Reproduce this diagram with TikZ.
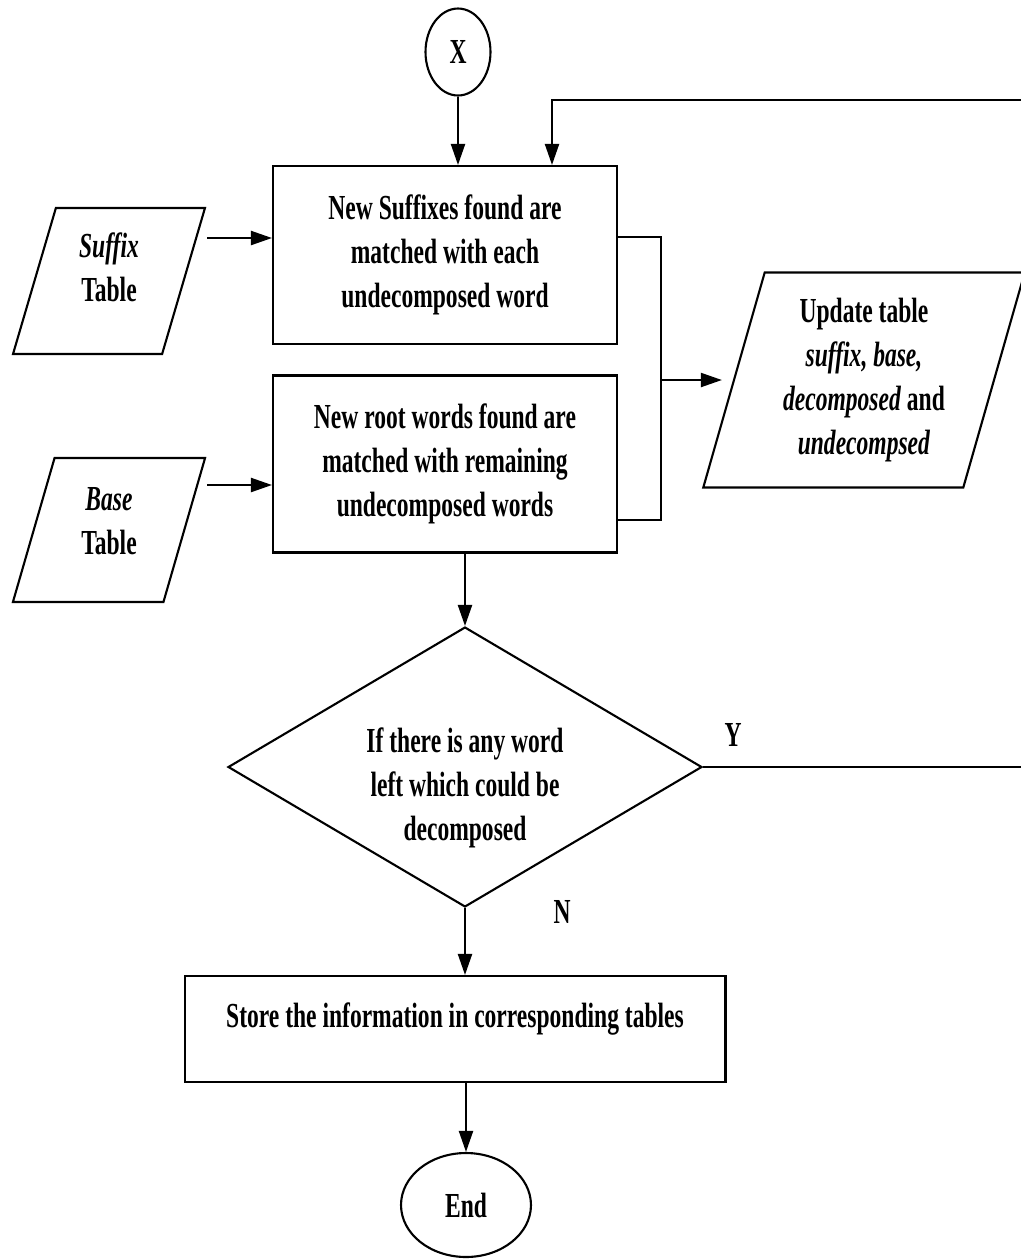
\documentclass[tikz,border=0pt]{standalone}
\usepackage{fontspec}
\newfontfamily\flowfont{Liberation Serif}[FakeStretch=0.67]
\usetikzlibrary{shapes.geometric, arrows.meta, positioning}
\tikzset{
	flowtext/.style={font={\flowfont\bfseries\fontsize{20}{25}\selectfont}, align=center}
}
\tikzset{
	procbox/.style={flowtext, draw, rectangle, line width=1.2pt, inner sep=0pt},
	datatab/.style={flowtext, draw, trapezium, trapezium stretches=true, line width=1.2pt, inner sep=0pt},
	decision/.style={flowtext, draw, diamond, aspect=1.7, inner sep=-0.3cm, line width=1.2pt},
	terminal/.style={flowtext, draw, ellipse, inner sep=0pt, line width=1.2pt},
	flowarrow/.style={-{Triangle[length=0.42cm, width=0.28cm]}, line width=1.2pt}
}

\begin{document}
\begin{tikzpicture}[x=0.02cm, y=-0.02cm, line width=1.2pt]
      \useasboundingbox (0,0) rectangle (1021,1259);

      % connector and the two matching steps
      \node[terminal, minimum width=1.3cm, minimum height=1.74cm] (X) at (458,52) {X};
      \node[procbox, minimum width=6.88cm, minimum height=3.56cm] (box1) at (445,255)
        {New Suffixes found are\\matched with each\\undecomposed word};
      \node[procbox, minimum width=6.88cm, minimum height=3.54cm] (box2) at (445,464)
        {New root words found are\\matched with remaining\\undecomposed words};

      % input tables
      \node[datatab, trapezium left angle=76, trapezium right angle=104,
        minimum width=3.86cm, minimum height=2.92cm] (suftab) at (109,281)
        {\textit{Suffix}\\Table\rule[-0.56cm]{0pt}{0pt}};
      \node[datatab, trapezium left angle=76, trapezium right angle=104,
        minimum width=3.86cm, minimum height=2.88cm] (basetab) at (109,530)
        {\textit{Base}\\Table\rule[-0.36cm]{0pt}{0pt}};

      % output table
      \node[datatab, trapezium left angle=73, trapezium right angle=107,
        minimum width=6.44cm, minimum height=4.3cm] (update) at (864,380)
        {Update table\\\textit{suffix, base,}\\\textit{decomposed} and\\\textit{undecompsed}};

      % decision, final step, end
      \node[decision, minimum width=9.48cm, minimum height=5.6cm] (dec) at (465,767)
        {\rule{0pt}{1.34cm}If there is any word\\left which could be\\decomposed};
      \node[procbox, minimum width=10.82cm, minimum height=2.12cm, text height=0.5cm, text depth=0.56cm]
        (store) at (455,1029) {Store the information in corresponding tables};
      \node[terminal, minimum width=2.6cm, minimum height=2.08cm] (end) at (466,1205) {End};

      \node[flowtext] (ylab) at (733,735) {Y};
      \node[flowtext] (nlab) at (562,912) {N};

      % helper points
      \coordinate (loopin) at (1021,100);
      \coordinate (loopdrop) at (552,100);
      \coordinate (yexit) at (1021,767);
      \coordinate (brtop) at (661,237);
      \coordinate (brbot) at (661,520);
      \coordinate (sufout) at (207,238);
      \coordinate (baseout) at (207,485);

      % connectors
      \draw[flowarrow] (X.south) -- (X.south |- box1.north);
      \draw[flowarrow] (loopin) -- (loopdrop) -- (loopdrop |- box1.north);
      \draw[flowarrow] (sufout) -- (sufout -| box1.west);
      \draw[flowarrow] (baseout) -- (baseout -| box2.west);
      \draw (box1.east |- brtop) -- (brtop) -- (brbot) -- (box2.east |- brbot);
      \draw[flowarrow, shorten >=0.22cm] (brtop |- update.west) -- (update.west);
      \draw[flowarrow] (box2.south -| dec.north) -- (dec.north);
      \draw (dec.east) -- (yexit);
      \draw[flowarrow] (dec.south) -- (dec.south |- store.north);
      \draw[flowarrow] (store.south -| end.north) -- (end.north);
    \end{tikzpicture}
\end{document}
